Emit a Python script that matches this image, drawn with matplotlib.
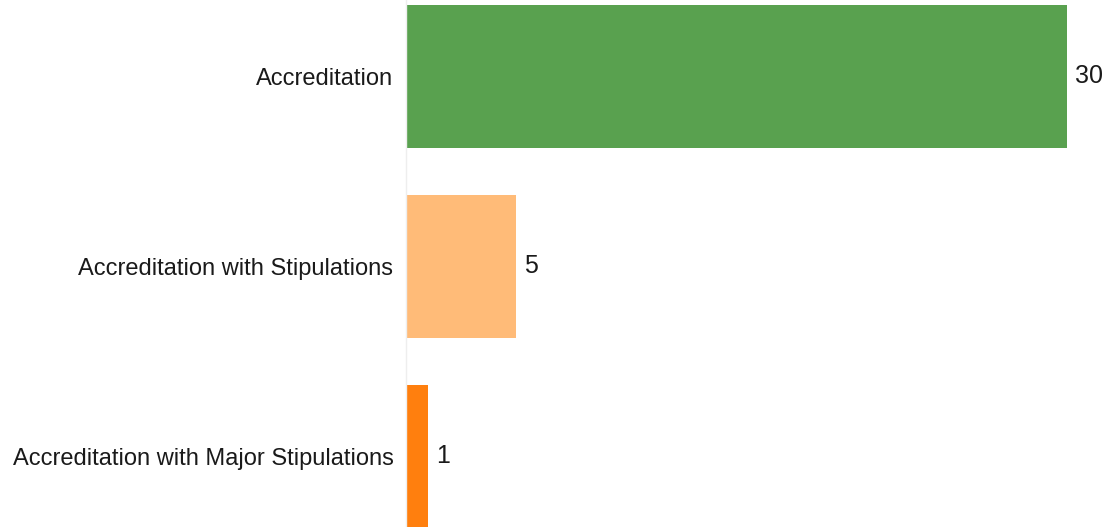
import matplotlib
matplotlib.use("Agg")
import matplotlib.pyplot as plt

categories = ["Accreditation", "Accreditation with Stipulations",
              "Accreditation with Major Stipulations"]
counts = [30, 5, 1]
colors = ["#59a14f", "#ffbb78", "#ff7f0e"]

plt.rcParams["font.family"] = ["Liberation Sans", "DejaVu Sans"]

W, H = 1108, 527
fig = plt.figure(figsize=(W / 100, H / 100), dpi=100)
ax = fig.add_axes([406 / W, 0, 1 - 406 / W, 1])

pos = list(range(len(categories)))
bars = ax.barh(pos, counts, height=0.753, color=colors)

ax.set_xlim(0, 30 * (W - 406) / 661)
ax.set_ylim(-0.4026 + 527 / 190, -0.4026)
ax.set_yticks(pos)
ax.set_yticklabels(categories, fontsize=17, color="#1a1a1a")
ax.tick_params(axis="y", length=0, pad=9)
ax.set_xticks([])
for s in ["top", "right", "bottom"]:
    ax.spines[s].set_visible(False)
ax.spines["left"].set_color("#eeeeee")
ax.spines["left"].set_linewidth(1)

for b, v in zip(bars, counts):
    ax.annotate(str(v), (b.get_width(), b.get_y() + b.get_height() / 2),
                xytext=(6, 0), textcoords="offset points",
                va="center", ha="left", fontsize=18, color="#1a1a1a")

fig.savefig("out.png", dpi=100)
